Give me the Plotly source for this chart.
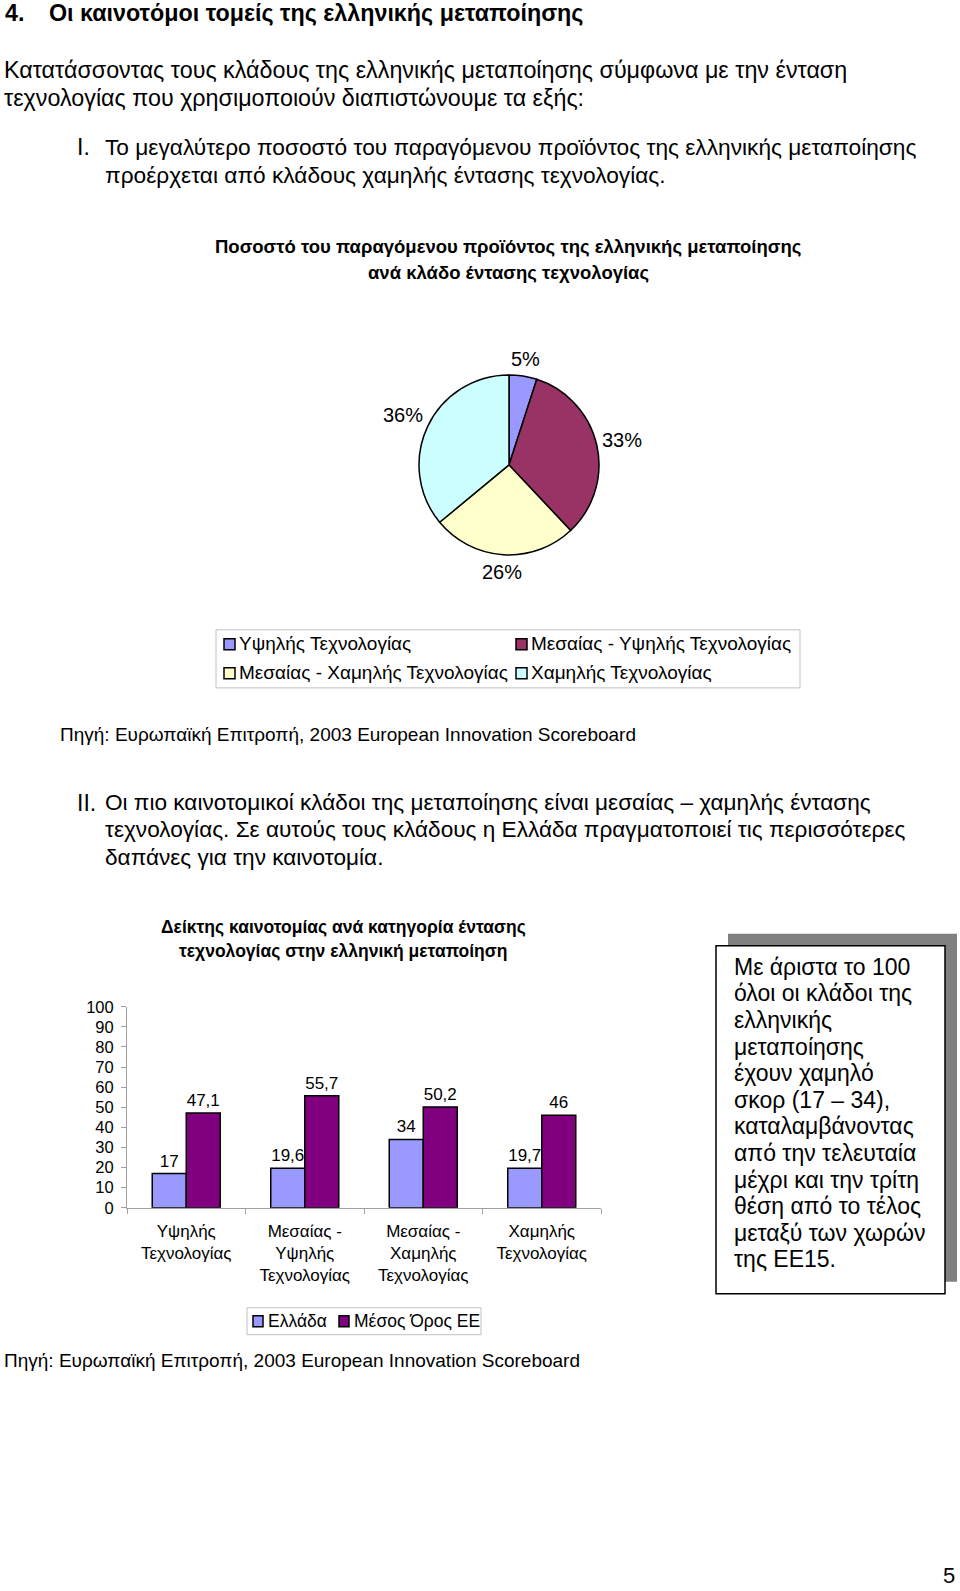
import math
import plotly.graph_objects as go

W, H = 960, 1607
FONT = "Liberation Sans"
# the page is photographed with a small vertical offset/squeeze; compensate
Y_OFF, Y_SCALE = 8, 0.989


def px(x):
    return x / W


def py(y):
    return 1 - ((y - Y_OFF) / Y_SCALE) / H


# ---------------- data ----------------
pie_labels = ["Υψηλής Τεχνολογίας", "Μεσαίας - Υψηλής Τεχνολογίας",
              "Μεσαίας - Χαμηλής Τεχνολογίας", "Χαμηλής Τεχνολογίας"]
pie_values = [5, 33, 26, 36]
pie_colors = ["#9999FF", "#993366", "#FFFFCC", "#CCFFFF"]

bar_categories = ["Υψηλής<br>Τεχνολογίας", "Μεσαίας -<br>Υψηλής<br>Τεχνολογίας",
                  "Μεσαίας -<br>Χαμηλής<br>Τεχνολογίας", "Χαμηλής<br>Τεχνολογίας"]
greece = [17, 19.6, 34, 19.7]
eu_avg = [47.1, 55.7, 50.2, 46]
series_names = ["Ελλάδα", "Μέσος Όρος ΕΕ"]
bar_colors = ["#9999FF", "#800080"]
y_ticks = [0, 10, 20, 30, 40, 50, 60, 70, 80, 90, 100]

heading_num = "4."
heading = "Οι καινοτόμοι τομείς της ελληνικής μεταποίησης"
para = ["Κατατάσσοντας τους κλάδους της ελληνικής μεταποίησης σύμφωνα με την ένταση",
        "τεχνολογίας που χρησιμοποιούν διαπιστώνουμε τα εξής:"]
point1 = ["Το μεγαλύτερο ποσοστό του παραγόμενου προϊόντος της ελληνικής μεταποίησης",
          "προέρχεται από κλάδους χαμηλής έντασης τεχνολογίας."]
pie_title = ["Ποσοστό του παραγόμενου προϊόντος της ελληνικής μεταποίησης",
             "ανά κλάδο έντασης τεχνολογίας"]
source = "Πηγή: Ευρωπαϊκή Επιτροπή, 2003 European Innovation Scoreboard"
point2 = ["Οι πιο καινοτομικοί κλάδοι της μεταποίησης είναι μεσαίας – χαμηλής έντασης",
          "τεχνολογίας. Σε αυτούς τους κλάδους η Ελλάδα πραγματοποιεί τις περισσότερες",
          "δαπάνες για την καινοτομία."]
bar_title = ["Δείκτης καινοτομίας ανά κατηγορία έντασης",
             "τεχνολογίας στην ελληνική μεταποίηση"]
note_lines = ["Με άριστα το 100", "όλοι οι κλάδοι της", "ελληνικής", "μεταποίησης",
              "έχουν χαμηλό", "σκορ (17 – 34),", "καταλαμβάνοντας", "από την τελευταία",
              "μέχρι και την τρίτη", "θέση από το τέλος", "μεταξύ των χωρών", "της ΕΕ15."]
page_number = "5"

fig = go.Figure()

# ---------------- pie ----------------
PIE_CX, PIE_CY, PIE_R = 509, 464, 90
fig.add_trace(go.Pie(
    values=pie_values, labels=pie_labels, sort=False, direction="clockwise", rotation=0,
    marker=dict(colors=pie_colors, line=dict(color="black", width=1.5)),
    textinfo="none", showlegend=False,
    domain=dict(x=[px(PIE_CX - PIE_R), px(PIE_CX + PIE_R)],
                y=[py(PIE_CY + PIE_R), py(PIE_CY - PIE_R)]),
))

annotations = []


def text(x, y, s, size, bold=False, anchor="left", color="black"):
    annotations.append(dict(
        x=px(x), y=py(y), xref="paper", yref="paper", text=("<b>%s</b>" % s) if bold else s,
        showarrow=False, xanchor=anchor, yanchor="middle", align=anchor,
        font=dict(family=FONT, size=size, color=color)))


# pie percentage labels: outside the slice mid-angle, clear of the edge by a gap
total = sum(pie_values)
cum = 0
LBL_SIZE, GAP = 20, 8
for v in pie_values:
    mid = (cum + v / 2) / total * 2 * math.pi
    cum += v
    label = "%d%%" % round(v / total * 100)
    dx, dy = math.sin(mid), -math.cos(mid)
    half_w = 0.56 * LBL_SIZE * len(label) / 2
    half_h = 0.4 * LBL_SIZE
    dist = PIE_R + GAP + abs(dx) * half_w + abs(dy) * half_h
    text(PIE_CX + dist * dx, PIE_CY + dist * dy, label, LBL_SIZE, anchor="center")

# ---------------- bars ----------------
for name, vals, col in zip(series_names, [greece, eu_avg], bar_colors):
    fig.add_trace(go.Bar(
        x=bar_categories, y=vals, name=name, showlegend=False,
        marker=dict(color=col, line=dict(color="black", width=1.5)),
        text=[str(v).replace(".", ",") for v in vals], textposition="outside",
        textfont=dict(family=FONT, size=17, color="black"), cliponaxis=False,
        xaxis="x", yaxis="y"))

fig.update_layout(
    width=W, height=H, margin=dict(l=0, r=0, t=0, b=0),
    paper_bgcolor="white", plot_bgcolor="white",
    barmode="group", bargap=0.426, bargroupgap=0,
    font=dict(family=FONT, color="black"),
    xaxis=dict(domain=[px(127), px(601)], anchor="y", type="category",
               showline=True, linecolor="#a0a0a0", linewidth=1,
               ticks="outside", tickson="boundaries", ticklen=5, tickcolor="#a0a0a0",
               ticklabelstandoff=8,
               tickfont=dict(family=FONT, size=17, color="black"), showgrid=False),
    yaxis=dict(domain=[py(1207), py(1006)], anchor="x", range=[0, 100],
               tickvals=y_ticks, showline=True, linecolor="#a0a0a0", linewidth=1,
               ticks="outside", ticklen=5, tickcolor="#a0a0a0", ticklabelstandoff=4,
               tickfont=dict(family=FONT, size=16.5, color="black"), showgrid=False,
               zeroline=False),
)

# ---------------- page text ----------------
BODY = 23
text(3, 12, heading_num, 23.3, bold=True)
text(47, 12, heading, 23.3, bold=True)
text(2, 69, para[0], 23.3)
text(2, 97, para[1], 23.3)
text(75, 146, "I.", BODY)
text(103, 146, point1[0], 22.7)
text(103, 174, point1[1], 22.7)
text(508, 246, pie_title[0], 18.5, bold=True, anchor="center")
text(508, 272, pie_title[1], 18.5, bold=True, anchor="center")
text(58, 734, source, 19)
text(75, 802, "II.", BODY)
text(103, 802, point2[0], 22.6)
text(103, 829, point2[1], 22.6)
text(103, 857, point2[2], 22.6)
text(343, 926, bar_title[0], 17.5, bold=True, anchor="center")
text(343, 950, bar_title[1], 17.5, bold=True, anchor="center")
text(2, 1360, source, 19)
text(949, 1575, page_number, 22, anchor="center")

shapes = []

# pie legend (manual)
shapes.append(dict(type="rect", xref="paper", yref="paper", x0=px(216), x1=px(800),
                   y0=py(687), y1=py(629), line=dict(color="#c0c0c0", width=1),
                   fillcolor="white", layer="below"))
leg_pos = [(224, 643), (516, 643), (224, 672), (516, 672)]
for (lx, ly), lab, col in zip(leg_pos, pie_labels, pie_colors):
    shapes.append(dict(type="rect", xref="paper", yref="paper", x0=px(lx), x1=px(lx + 11),
                       y0=py(ly + 6), y1=py(ly - 5), fillcolor=col,
                       line=dict(color="black", width=1.5)))
    text(lx + 13, ly, lab, 19)

# bar legend (manual)
shapes.append(dict(type="rect", xref="paper", yref="paper", x0=px(247), x1=px(481),
                   y0=py(1334), y1=py(1307), line=dict(color="#c0c0c0", width=1),
                   fillcolor="white", layer="below"))
bleg_pos = [(253, 1320), (339, 1320)]
for (lx, ly), lab, col in zip(bleg_pos, series_names, bar_colors):
    shapes.append(dict(type="rect", xref="paper", yref="paper", x0=px(lx), x1=px(lx + 10),
                       y0=py(ly + 6), y1=py(ly - 5), fillcolor=col,
                       line=dict(color="black", width=1.5)))
    text(lx + 13, ly, lab, 17.5)

# note box with shadow
shapes.append(dict(type="rect", xref="paper", yref="paper", x0=px(728), x1=px(957),
                   y0=py(1281), y1=py(933), fillcolor="#808080", line=dict(width=0)))
shapes.append(dict(type="rect", xref="paper", yref="paper", x0=px(716), x1=px(945),
                   y0=py(1293), y1=py(945), fillcolor="white",
                   line=dict(color="black", width=1.5)))
for i, line in enumerate(note_lines):
    text(732, 966 + i * 26.6, line, 23)

fig.update_layout(shapes=shapes, annotations=annotations)
fig.write_html("out.html")
